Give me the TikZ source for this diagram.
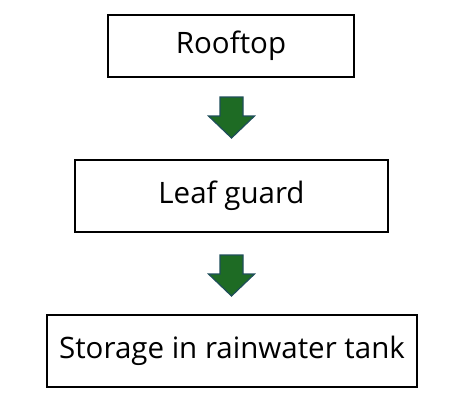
\documentclass[tikz,border=0pt]{standalone}
\usepackage{fontspec}
\setmainfont{Open Sans}
\definecolor{arrfill}{HTML}{1E6B24}
\definecolor{arrline}{HTML}{1F4E5A}
\begin{document}
\begin{tikzpicture}[x=1pt,y=-1pt,
  box/.style={draw=black, line width=1.2pt, fill=white, inner sep=0pt},
  lbl/.style={font=\fontsize{29.5}{33}\selectfont, text=black},
  blockarrow/.style={fill=arrfill, draw=arrline, line width=1.2pt, line join=miter}]
\useasboundingbox (0,0) rectangle (476,418);
\node[box, minimum width=246pt, minimum height=62pt] (roof) at (231,46) {};
\node[lbl] (rooft) at (roof.center) {Rooftop};
\node[box, minimum width=313pt, minimum height=72pt] (leaf) at (231.5,196) {};
\node[lbl] (leaft) at (leaf.center) {Leaf guard};
\node[box, minimum width=370pt, minimum height=72pt] (tank) at (232,351) {};
\node[lbl] (tankt) at (tank.center) {Storage in rainwater tank};
\coordinate (a1) at (231.5,97);
\coordinate (a2) at (231.5,255);
\draw[blockarrow] (a1) ++(-11.5,0) -- ++(23,0) -- ++(0,19) -- ++(11.5,0) -- ++(-23,22) -- ++(-23,-22) -- ++(11.5,0) -- cycle;
\draw[blockarrow] (a2) ++(-11.5,0) -- ++(23,0) -- ++(0,19) -- ++(11.5,0) -- ++(-23,22) -- ++(-23,-22) -- ++(11.5,0) -- cycle;
\end{tikzpicture}
\end{document}
